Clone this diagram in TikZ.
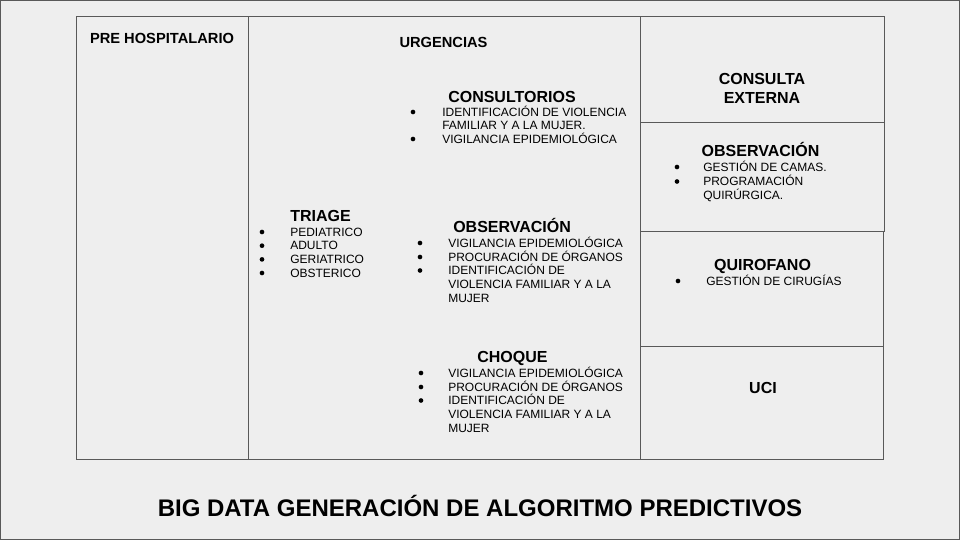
\documentclass[tikz,border=0pt]{standalone}
\usepackage{fontspec}
\setmainfont{Liberation Sans}
\definecolor{bg}{HTML}{EEEEEE}
\definecolor{ln}{HTML}{595959}
\begin{document}
\begin{tikzpicture}[x=0.75pt,y=-0.75pt,
 box/.style={draw=ln,line width=0.75pt},
 head/.style={font=\fontsize{12}{14}\selectfont\bfseries,inner sep=0pt,anchor=base},
 headw/.style={head,anchor=base west},
 sec/.style={font=\fontsize{11}{13}\selectfont\bfseries,inner sep=0pt,anchor=base},
 itm/.style={font=\fontsize{9}{10}\selectfont,inner sep=0pt,anchor=base west},
 bul/.style={circle,fill=black,draw=none,inner sep=0pt,minimum size=3.5pt,anchor=center,yshift=3pt},
 ttl/.style={font=\fontsize{18}{21}\selectfont\bfseries,inner sep=0pt,anchor=base}
]
\fill[bg] (0,0) rectangle (960,540);
\draw[ln,line width=0.75pt] (0.5,0.5) rectangle (959.5,539.5);
\useasboundingbox (0,0) rectangle (960,540);

% frames
\draw[box] (76,16) rectangle (248,459);
\draw[box] (248,16) rectangle (640,459);
\draw[box] (640,16) rectangle (884,122);
\draw[box] (640,122) rectangle (884,231);
\draw[box] (640,231) rectangle (883,346);
\draw[box] (640,346) rectangle (883,459);

% left columns
\node[sec] (pre) at (162,43) {PRE HOSPITALARIO};
\node[sec] (urg) at (443.5,47) {URGENCIAS};

% consultorios
\node[headw] (cons) at (448,102) {CONSULTORIOS};
\node[bul] (cb1) at (413,116) {};
\node[itm] (ct1) at (442,116) {IDENTIFICACIÓN DE VIOLENCIA};
\node[itm] (ct1b) at (442,129.5) {FAMILIAR Y A LA MUJER.};
\node[bul] (cb2) at (413,143) {};
\node[itm] (ct2) at (442,143) {VIGILANCIA EPIDEMIOLÓGICA};

% triage
\node[headw] (tri) at (290,221) {TRIAGE};
\node[bul] (tb1) at (262,236) {};
\node[itm] (tt1) at (290,236) {PEDIATRICO};
\node[bul] (tb2) at (262,249.7) {};
\node[itm] (tt2) at (290,249.7) {ADULTO};
\node[bul] (tb3) at (262,263.4) {};
\node[itm] (tt3) at (290,263.4) {GERIATRICO};
\node[bul] (tb4) at (262,277) {};
\node[itm] (tt4) at (290,277) {OBSTERICO};

% observacion (urgencias)
\node[headw] (obs) at (453,232) {OBSERVACIÓN};
\node[bul] (ob1) at (420,247) {};
\node[itm] (ot1) at (448,247) {VIGILANCIA EPIDEMIOLÓGICA};
\node[bul] (ob2) at (420,261) {};
\node[itm] (ot2) at (448,261) {PROCURACIÓN DE ÓRGANOS};
\node[bul] (ob3) at (420,274.5) {};
\node[itm] (ot3) at (448,274.5) {IDENTIFICACIÓN DE};
\node[itm] (ot3b) at (448,288) {VIOLENCIA FAMILIAR Y A LA};
\node[itm] (ot3c) at (448,302) {MUJER};

% choque
\node[headw] (cho) at (477,362) {CHOQUE};
\node[bul] (hb1) at (421,377) {};
\node[itm] (ht1) at (448,377) {VIGILANCIA EPIDEMIOLÓGICA};
\node[bul] (hb2) at (421,391) {};
\node[itm] (ht2) at (448,391) {PROCURACIÓN DE ÓRGANOS};
\node[bul] (hb3) at (421,404.5) {};
\node[itm] (ht3) at (448,404.5) {IDENTIFICACIÓN DE};
\node[itm] (ht3b) at (448,418) {VIOLENCIA FAMILIAR Y A LA};
\node[itm] (ht3c) at (448,432) {MUJER};

% right column
\node[head] (ce1) at (762,84) {CONSULTA};
\node[head] (ce2) at (762,103) {EXTERNA};

\node[head] (obs2) at (760.5,156) {OBSERVACIÓN};
\node[bul] (rb1) at (677,171) {};
\node[itm] (rt1) at (703,171) {GESTIÓN DE CAMAS.};
\node[bul] (rb2) at (677,185.5) {};
\node[itm] (rt2) at (703,185.5) {PROGRAMACIÓN};
\node[itm] (rt2b) at (703,199) {QUIRÚRGICA.};

\node[head] (qui) at (762.5,270) {QUIROFANO};
\node[bul] (qb1) at (678,285) {};
\node[itm] (qt1) at (706,285) {GESTIÓN DE CIRUGÍAS};

\node[head] (uci) at (763,393) {UCI};

% title
\node[ttl] (title) at (480,516) {BIG DATA GENERACIÓN DE ALGORITMO PREDICTIVOS};
\end{tikzpicture}
\end{document}
